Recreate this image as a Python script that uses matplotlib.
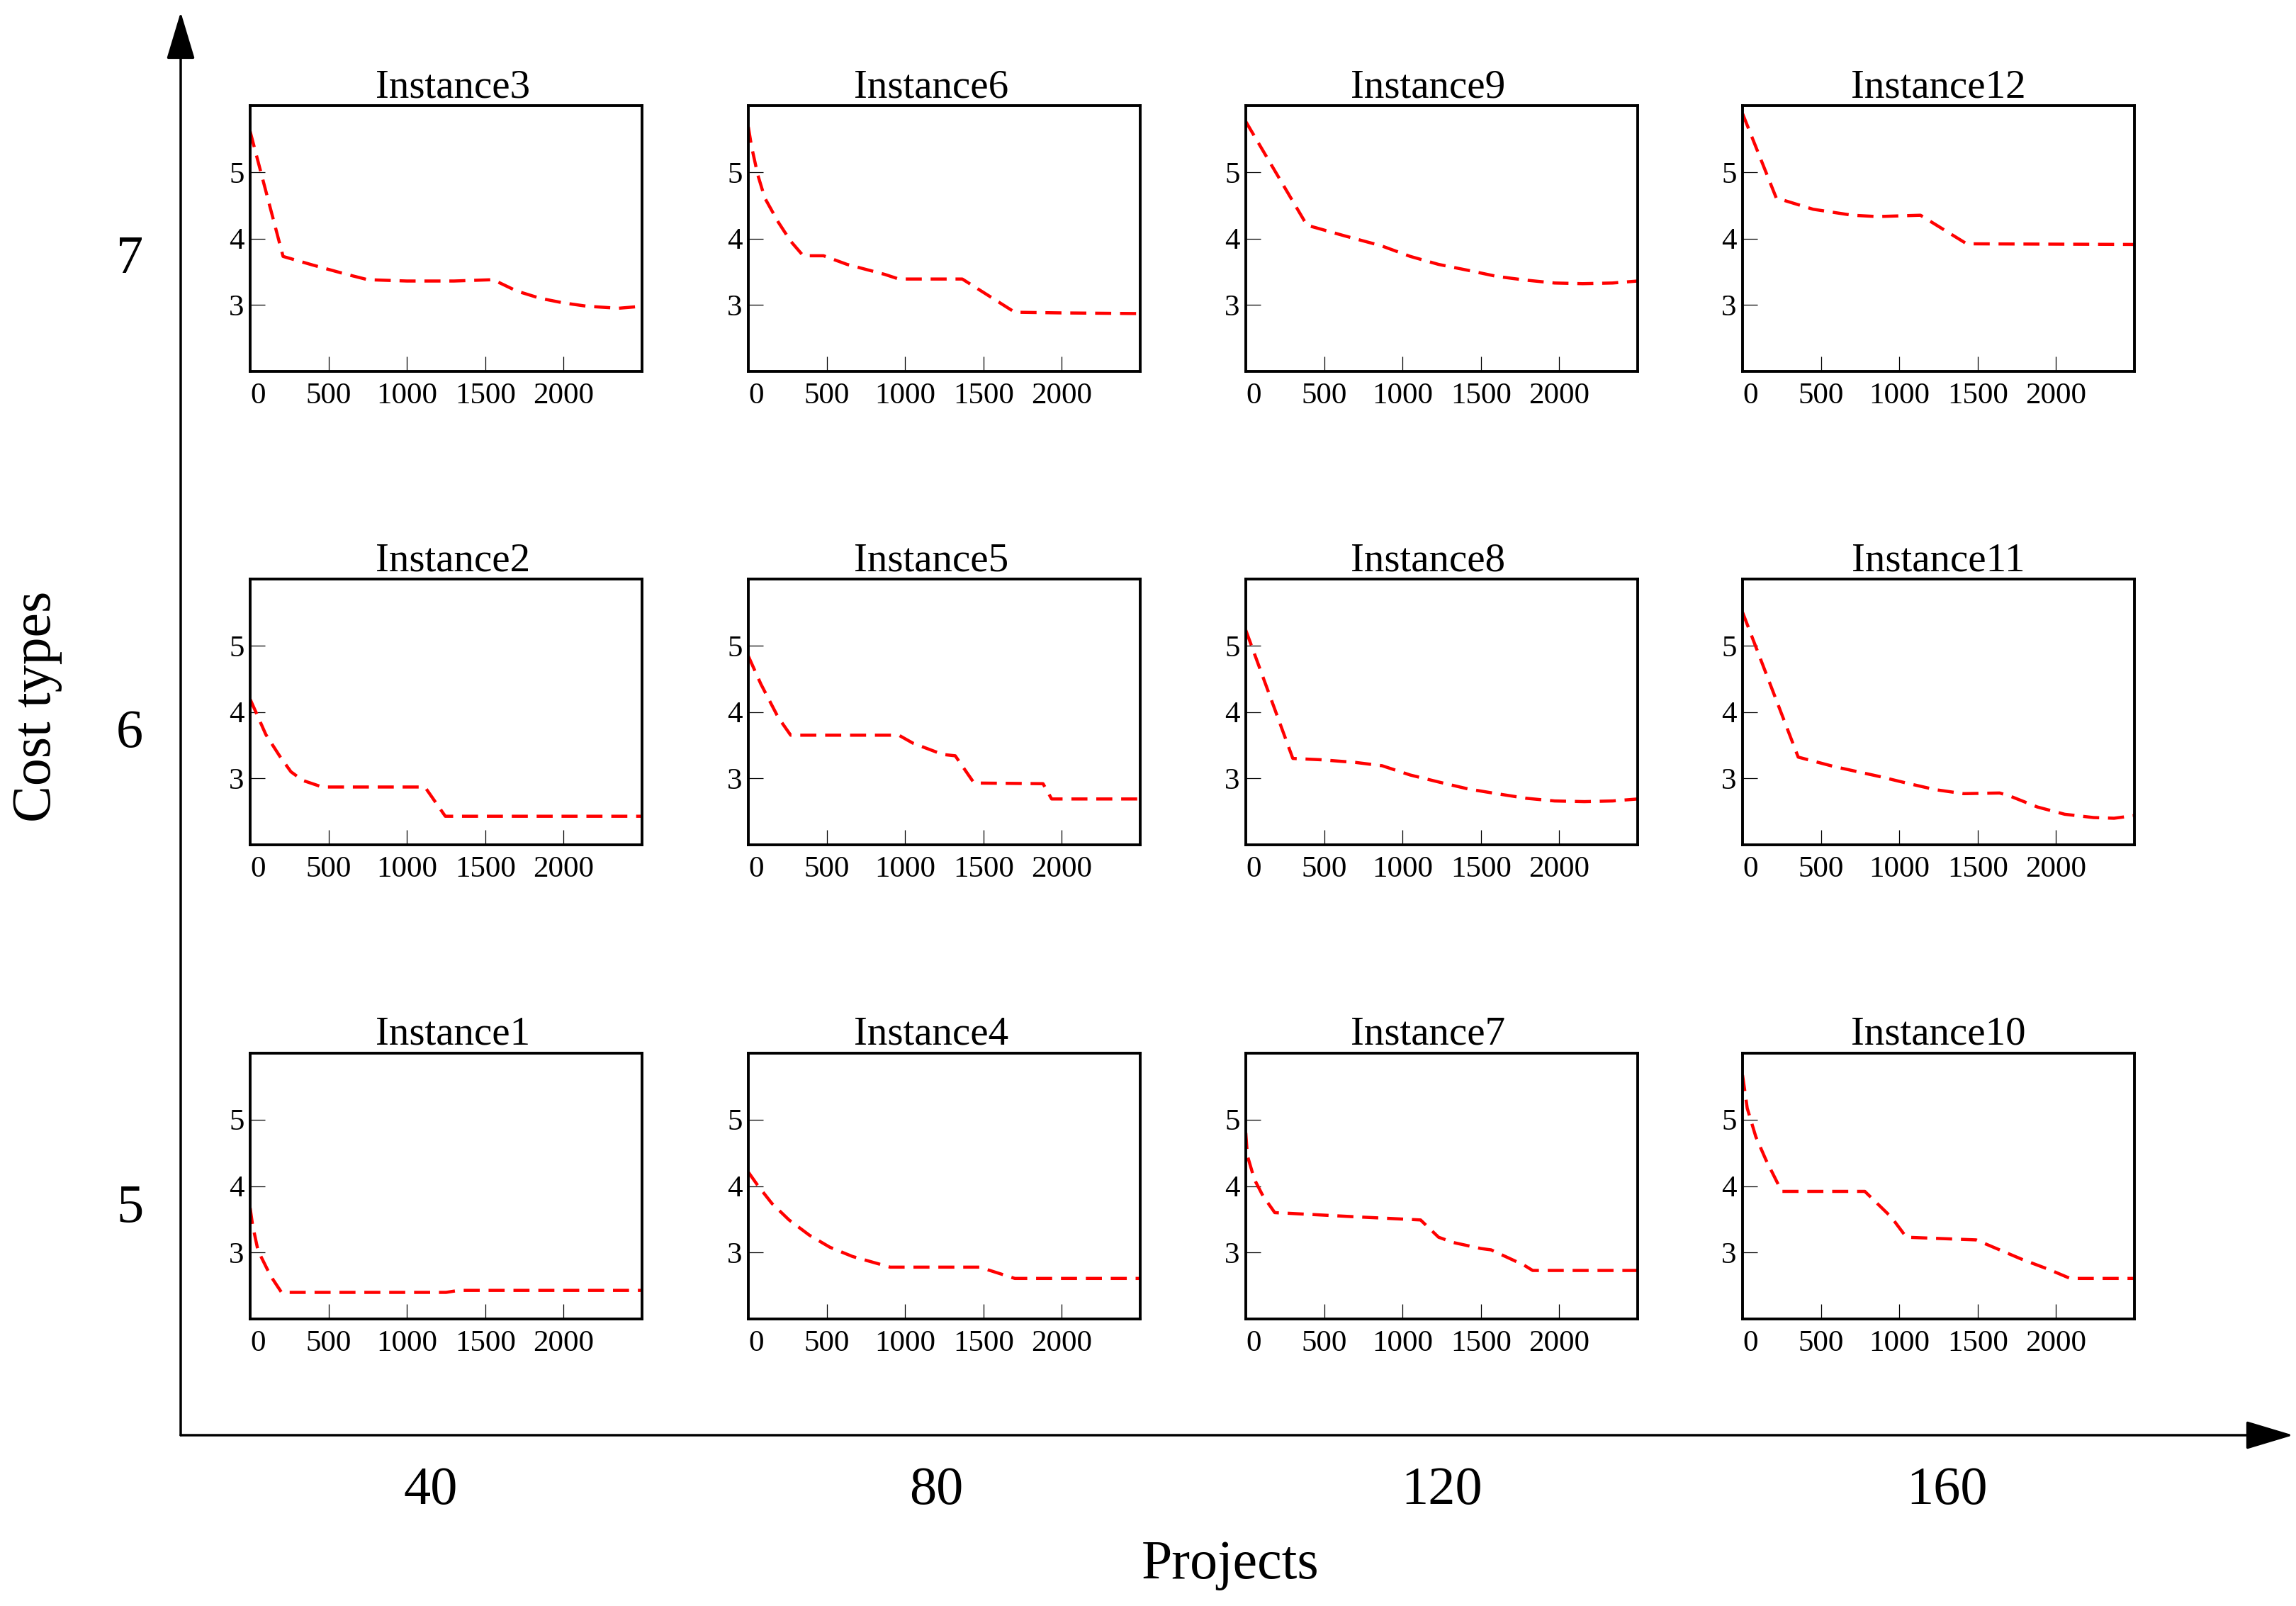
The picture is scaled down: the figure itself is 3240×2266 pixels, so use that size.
import matplotlib
matplotlib.use('Agg')
import matplotlib.pyplot as plt

plt.rcParams['font.family'] = ['Liberation Serif', 'DejaVu Serif']

# outer categories
projects = [40, 80, 120, 160]
cost_types = [5, 6, 7]

# convergence curves
x1 = [0, 15, 50, 130, 200, 1250, 1330, 2500]
y1 = [3.67, 3.42, 3.03, 2.65, 2.40, 2.40, 2.43, 2.43]

x2 = [0, 40, 100, 190, 260, 335, 460, 1115, 1245, 2500]
y2 = [4.19, 3.98, 3.66, 3.33, 3.10, 2.97, 2.87, 2.87, 2.43, 2.43]

x3 = [0, 210, 400, 600, 750, 1000, 1300, 1550, 1700, 1850, 2000, 2150, 2350, 2500]
y3 = [5.61, 3.73, 3.60, 3.47, 3.38, 3.36, 3.36, 3.38, 3.21, 3.10, 3.03, 2.98, 2.95, 2.98]

x4 = [0, 60, 150, 260, 390, 520, 665, 815, 905, 1475, 1700, 2500]
y4 = [4.21, 4.01, 3.74, 3.49, 3.26, 3.08, 2.94, 2.84, 2.78, 2.78, 2.61, 2.61]

x5 = [0, 80, 190, 270, 960, 1050, 1240, 1320, 1440, 1880, 1935, 2500]
y5 = [4.84, 4.42, 3.92, 3.65, 3.65, 3.53, 3.36, 3.34, 2.93, 2.92, 2.69, 2.69]

x6 = [0, 20, 60, 105, 190, 270, 350, 480, 630, 870, 960, 1365, 1700, 2000, 2500]
y6 = [5.68, 5.39, 4.96, 4.61, 4.25, 3.96, 3.74, 3.74, 3.61, 3.46, 3.39, 3.39, 2.89, 2.88, 2.87]

x7 = [0, 10, 55, 110, 185, 275, 680, 1115, 1230, 1325, 1500, 1565, 1775, 1830, 2500]
y7 = [4.80, 4.46, 4.10, 3.85, 3.60, 3.59, 3.54, 3.49, 3.23, 3.15, 3.06, 3.04, 2.81, 2.73, 2.73]

x8 = [0, 300, 480, 700, 870, 1050, 1240, 1420, 1600, 1790, 1970, 2160, 2340, 2500]
y8 = [5.23, 3.30, 3.28, 3.24, 3.19, 3.05, 2.94, 2.84, 2.77, 2.70, 2.66, 2.65, 2.66, 2.69]

x9 = [0, 390, 630, 865, 1050, 1230, 1420, 1600, 1780, 1970, 2150, 2340, 2500]
y9 = [5.76, 4.20, 4.04, 3.89, 3.73, 3.61, 3.52, 3.43, 3.375, 3.33, 3.32, 3.33, 3.36]

x10 = [0, 30, 85, 150, 250, 780, 950, 1045, 1490, 1600, 1780, 1960, 2090, 2500]
y10 = [5.67, 5.17, 4.74, 4.39, 3.92, 3.92, 3.53, 3.23, 3.19, 3.08, 2.90, 2.74, 2.61, 2.61]

x11 = [0, 355, 580, 870, 1045, 1230, 1410, 1640, 1710, 1880, 2055, 2240, 2370, 2500]
y11 = [5.50, 3.32, 3.18, 3.03, 2.93, 2.83, 2.77, 2.78, 2.73, 2.57, 2.46, 2.41, 2.40, 2.44]

x12 = [0, 215, 450, 700, 860, 1135, 1430, 2500]
y12 = [5.88, 4.61, 4.44, 4.35, 4.33, 4.35, 3.92, 3.91]

curves = {1: (x1, y1), 2: (x2, y2), 3: (x3, y3), 4: (x4, y4),
          5: (x5, y5), 6: (x6, y6), 7: (x7, y7), 8: (x8, y8),
          9: (x9, y9), 10: (x10, y10), 11: (x11, y11), 12: (x12, y12)}

# rows top->bottom (cost types 7,6,5), columns left->right (projects)
grid = [[3, 6, 9, 12],
        [2, 5, 8, 11],
        [1, 4, 7, 10]]

W, H = 3240, 2266
fig = plt.figure(figsize=(W / 100, H / 100), dpi=100)

# big outer axes with arrows
big = fig.add_axes([255 / W, 1 - 2025 / H, (3236 - 255) / W, (2025 - 17) / H])
big.set_xlim(20.2, 187.4)
big.set_ylim(4.51, 7.51)
for s in big.spines.values():
    s.set_visible(False)
big.patch.set_visible(False)
big.set_xticks(projects)
big.set_yticks(cost_types)
big.tick_params(axis='both', length=0, labelsize=55)
big.tick_params(axis='x', pad=32)
big.tick_params(axis='y', pad=38)
arrow = dict(arrowstyle='-|>,head_length=0.6,head_width=0.18', lw=2.5,
             color='black', mutation_scale=70, shrinkA=0, shrinkB=0)
big.annotate('', xy=(1, 0), xytext=(0, 0), xycoords='axes fraction', arrowprops=arrow)
big.annotate('', xy=(0, 1), xytext=(0, 0), xycoords='axes fraction', arrowprops=arrow)

fig.text(1736 / W, 1 - 2208 / H, 'Projects', fontsize=56, ha='center', va='center')
fig.text(52 / W, 1 - 997 / H, 'Cost types', fontsize=56, rotation=90,
         ha='center', va='center')

lefts = [353, 1056, 1758, 2459]
tops = [149, 817, 1486]
aw, ah = 553, 375
title_x = [0.518, 0.466, 0.465, 0.5]

for r, row in enumerate(grid):
    for c, inst in enumerate(row):
        ax = fig.add_axes([lefts[c] / W, 1 - (tops[r] + ah) / H, aw / W, ah / H])
        xs, ys = curves[inst]
        ax.plot(xs, ys, color='red', lw=3.2, linestyle=(0, (5.1, 2.8)))
        ax.set_xlim(0, 2500)
        ax.set_ylim(2, 6)
        ax.set_xticks([0, 500, 1000, 1500, 2000])
        ax.set_yticks([3, 4, 5])
        ax.tick_params(direction='in', length=15, width=0.9, labelsize=31)
        ax.tick_params(axis='x', pad=11)
        ax.tick_params(axis='y', pad=6)
        ax.get_xticklabels()[0].set_ha('left')
        for s in ax.spines.values():
            s.set_linewidth(2.8)
        ax.set_title('Instance%d' % inst, fontsize=41, pad=8, x=title_x[c])

fig.savefig('out.png', dpi=100)
